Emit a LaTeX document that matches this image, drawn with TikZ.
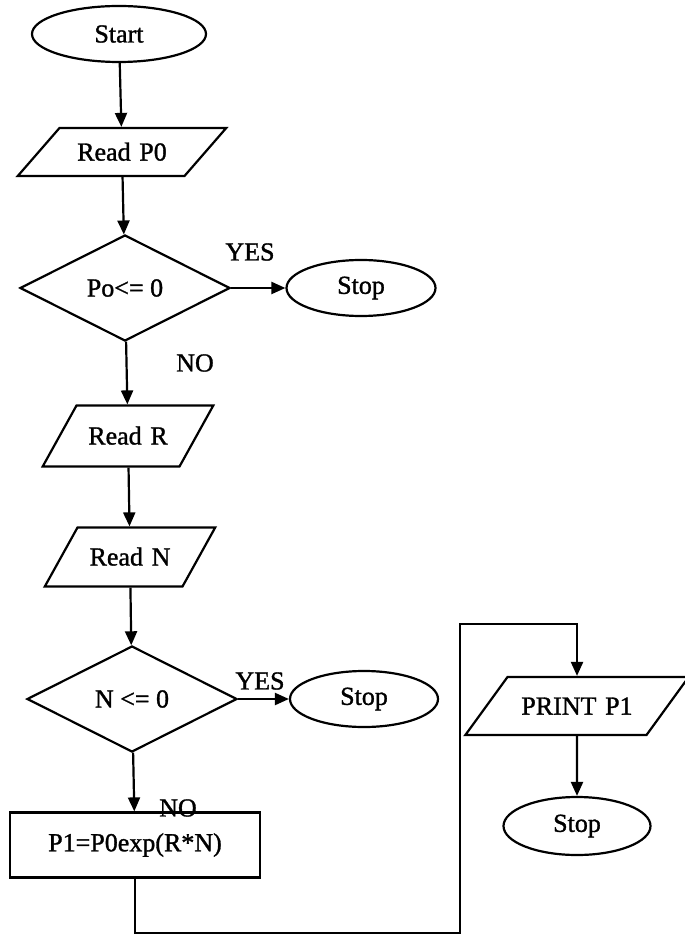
\documentclass[tikz,border=0pt]{standalone}
\usepackage{fontspec}
\setmainfont{Liberation Serif}[FakeBold=1.2]
\usetikzlibrary{arrows.meta,shapes.geometric}

\begin{document}
\begin{tikzpicture}[x=0.5pt,y=-0.5pt,>={Triangle[length=7pt,width=6pt]},line width=1.1pt,
    every node/.style={font=\fontsize{13}{15}\selectfont},
    term/.style={ellipse,draw,inner sep=0pt},
    io/.style={trapezium,draw,inner sep=0pt,align=center},
    test/.style={diamond,draw,inner sep=0pt,minimum width=105pt,minimum height=53pt},
    lbl/.style={inner sep=0pt}]
  \useasboundingbox (0,0) rectangle (684,940);
  \node[term,minimum width=87pt,minimum height=28pt] (start) at (119,34) {Start};
  \node[io,trapezium left angle=49,trapezium right angle=131,text width=62.5pt,text height=16.3pt,text depth=7.7pt] (readp) at (122,152) {Read P0};
  \node[test] (cond1) at (125,288) {Po<= 0};
  \node[term,minimum width=74.5pt,minimum height=28pt] (stop1) at (361,288) {Stop};
  \node[io,trapezium left angle=61,trapezium right angle=119,text width=51.5pt,text height=19.5pt,text depth=11pt] (readr) at (128,436) {Read R};
  \node[io,trapezium left angle=61,trapezium right angle=119,text width=52.5pt,text height=19pt,text depth=10.5pt] (readn) at (130,557) {Read N};
  \node[test] (cond2) at (132,699) {N <= 0};
  \node[term,minimum width=74pt,minimum height=28pt] (stop2) at (364,699) {Stop};
  \node[draw,rectangle,inner sep=0pt,minimum width=125pt,minimum height=32.5pt] (calc) at (135,845) {P1=P0exp(R*N)};
  \node[io,trapezium left angle=54,trapezium right angle=126,text width=69.5pt,text height=18.8pt,text depth=10.2pt] (prnt) at (577,706) {PRINT P1};
  \node[term,minimum width=73.5pt,minimum height=29pt] (stop3) at (577,826) {Stop};
  \node[lbl] (yes1) at (250,252) {YES};
  \node[lbl] (no1) at (195,363) {NO};
  \node[lbl] (yes2) at (260,681) {YES};
  \node[lbl] (no2) at (178,808) {NO};
  \coordinate (lb) at (460,933);
  \coordinate (lt) at (460,624);
  \draw[->] (start) -- (readp);
  \draw[->] (readp) -- (cond1);
  \draw[->] (cond1) -- (stop1);
  \draw[->] (cond1) -- (readr);
  \draw[->] (readr) -- (readn);
  \draw[->] (readn) -- (cond2);
  \draw[->] (cond2) -- (stop2);
  \draw[->] (cond2) -- (calc);
  \draw[->] (calc.south) |- (lb) -- (lt) -| (prnt.north);
  \draw[->] (prnt) -- (stop3);
\end{tikzpicture}
\end{document}
